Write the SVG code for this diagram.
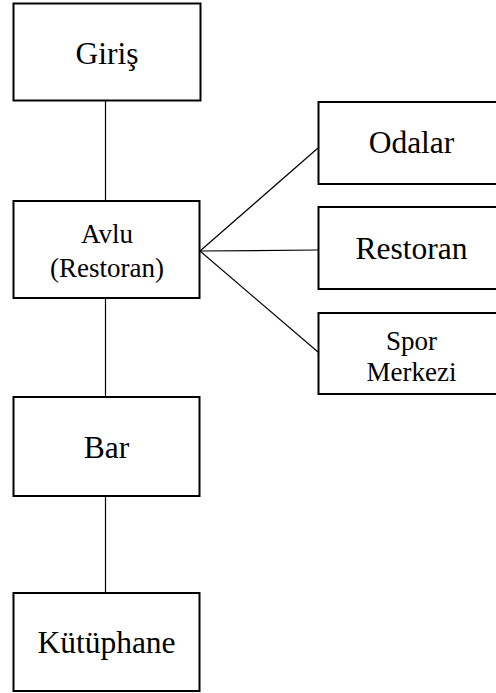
<svg xmlns="http://www.w3.org/2000/svg" width="496" height="693" viewBox="0 0 496 693">
<style>
.box{fill:#fff;stroke:#000;stroke-width:2}
.t{font-family:"Liberation Serif","Times New Roman",serif;fill:#000;text-anchor:middle}
.big{font-size:31.5px}
.small{font-size:27px}
.c{stroke:#000;stroke-width:1.2;fill:none}
</style>
<rect width="496" height="693" fill="#fff"/>
<g id="connectors">
<line class="c" x1="105.5" y1="100" x2="105.5" y2="201"/>
<line class="c" x1="105.5" y1="298" x2="105.5" y2="397"/>
<line class="c" x1="105.5" y1="496" x2="105.5" y2="593"/>
<line class="c" x1="200" y1="251" x2="318" y2="148"/>
<line class="c" x1="200" y1="251" x2="318" y2="250"/>
<line class="c" x1="200" y1="251" x2="318" y2="352"/>
</g>
<g id="giris">
<rect class="box" x="13.5" y="3.5" width="187" height="97"/>
<text class="t big" x="107" y="64">Giriş</text>
</g>
<g id="avlu">
<rect class="box" x="13.5" y="201" width="186" height="97"/>
<text class="t small" x="107" y="242.7">Avlu</text>
<text class="t small" x="107" y="276.7">(Restoran)</text>
</g>
<g id="bar">
<rect class="box" x="13.5" y="397" width="186" height="99"/>
<text class="t big" x="106.5" y="458.3">Bar</text>
</g>
<g id="kutuphane">
<rect class="box" x="13.5" y="593" width="186" height="98"/>
<text class="t big" x="106.5" y="653.3">Kütüphane</text>
</g>
<g id="odalar">
<rect class="box" x="318.5" y="102" width="187" height="82"/>
<text class="t big" x="411.5" y="153.3">Odalar</text>
</g>
<g id="restoran">
<rect class="box" x="318.5" y="207" width="187" height="82"/>
<text class="t big" x="411.5" y="259">Restoran</text>
</g>
<g id="spor">
<rect class="box" x="318.5" y="313" width="187" height="81"/>
<text class="t small" x="411.5" y="350">Spor</text>
<text class="t small" x="411.5" y="380.7">Merkezi</text>
</g>
</svg>
